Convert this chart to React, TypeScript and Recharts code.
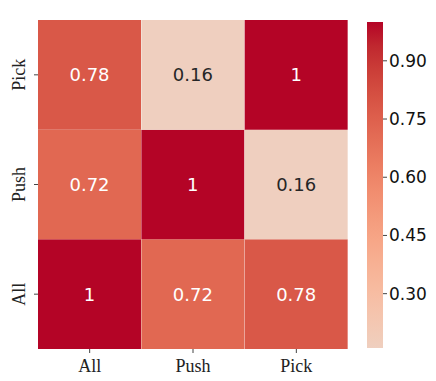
import { BarChart, Bar, XAxis, YAxis, Cell, LabelList } from "recharts";

const COLS = ["All", "Push", "Pick"];
const ROWS = ["All", "Push", "Pick"]; // bottom to top
const ROW_ALL = [1, 0.72, 0.78];
const ROW_PUSH = [0.72, 1, 0.16];
const ROW_PICK = [0.78, 0.16, 1];
const CB_TICKS = [0.3, 0.45, 0.6, 0.75, 0.9];
const VMIN = 0.16;
const VMAX = 1.0;

// upper half of matplotlib's coolwarm (t, r, g, b)
const COOLWARM: number[][] = [
  [0.5, 0.8654, 0.8654, 0.8654],
  [0.53125, 0.8978, 0.8489, 0.8209],
  [0.5625, 0.9241, 0.8274, 0.7745],
  [0.59375, 0.9445, 0.8009, 0.7267],
  [0.625, 0.9589, 0.7698, 0.678],
  [0.65625, 0.9673, 0.7341, 0.6288],
  [0.6875, 0.97, 0.6943, 0.5794],
  [0.71875, 0.9668, 0.6504, 0.5303],
  [0.75, 0.958, 0.6028, 0.4818],
  [0.78125, 0.9437, 0.5518, 0.4342],
  [0.8125, 0.9239, 0.4973, 0.388],
  [0.84375, 0.899, 0.4396, 0.3432],
  [0.875, 0.8692, 0.3783, 0.3003],
  [0.90625, 0.8346, 0.3129, 0.2593],
  [0.9375, 0.7956, 0.2413, 0.2205],
  [0.96875, 0.7525, 0.1572, 0.1841],
  [1, 0.7057, 0.0156, 0.1502],
];

// heatmap is centred on 0, so v in [-1, 1] -> t in [0, 1]
function colorFor(v: number) {
  const t = Math.min(1, Math.max(0.5, (v + 1) / 2));
  let i = 0;
  while (i < COOLWARM.length - 2 && COOLWARM[i + 1][0] < t) i++;
  const a = COOLWARM[i];
  const b = COOLWARM[i + 1];
  const f = (t - a[0]) / (b[0] - a[0]);
  const c = [1, 2, 3].map((k) => Math.round((a[k] + (b[k] - a[k]) * f) * 255));
  return `rgb(${c[0]},${c[1]},${c[2]})`;
}

const VALUES: Record<string, number[]> = { All: ROW_ALL, Push: ROW_PUSH, Pick: ROW_PICK };

const data = COLS.map((name, i) => {
  const d: Record<string, any> = { name };
  ROWS.forEach((r) => {
    d[r] = 1;
    d["v" + r] = VALUES[r][i];
  });
  return d;
});

const cbData = [{ name: "cb", range: [VMIN, VMAX] }];

const SERIF = "'Liberation Serif', 'Times New Roman', serif";
const SANS = "'DejaVu Sans', sans-serif";

function YTick(props: any) {
  const { x, y, payload } = props;
  const label = ROWS[Math.floor(payload.value)];
  return (
    <text
      x={x}
      y={y}
      transform={`rotate(-90 ${x} ${y})`}
      textAnchor="middle"
      fontFamily={SERIF}
      fontSize={18}
      fill="#222"
    >
      {label}
    </text>
  );
}

function CellLabel(props: any) {
  const { x, y, width, height, value } = props;
  return (
    <text
      x={x + width / 2}
      y={y + height / 2}
      textAnchor="middle"
      dominantBaseline="central"
      fontFamily={SANS}
      fontSize={18}
      fill={value < 0.5 ? "#262626" : "#ffffff"}
    >
      {String(value)}
    </text>
  );
}

export default function App() {
  // gradient stops from top (VMAX) to bottom (VMIN), offsets increasing
  const stops = [
    VMAX,
    ...COOLWARM.map((c) => 2 * c[0] - 1)
      .filter((v) => v > VMIN && v < VMAX)
      .reverse(),
    VMIN,
  ];
  return (
    <div style={{ position: "absolute", left: 0, top: 0, width: 436, height: 381, background: "#fff" }}>
      <div style={{ position: "absolute", left: 0, top: 0 }}>
        <BarChart
          width={360}
          height={381}
          data={data}
          margin={{ top: 20, right: 12, bottom: 0, left: 0 }}
          barCategoryGap={0}
          barGap={0}
        >
          <XAxis
            dataKey="name"
            height={32}
            axisLine={false}
            tickSize={4}
            tickMargin={6}
            tickLine={{ stroke: "#444" }}
            tick={{ fontFamily: SERIF, fontSize: 18, fill: "#222" }}
          />
          <YAxis
            type="number"
            domain={[0, 3]}
            ticks={[0.5, 1.5, 2.5]}
            width={38}
            axisLine={false}
            tickSize={4}
            tickMargin={9}
            tickLine={{ stroke: "#444" }}
            tick={<YTick />}
          />
          {ROWS.map((r) => (
            <Bar key={r} dataKey={r} stackId="h" isAnimationActive={false}>
              {COLS.map((c, i) => (
                <Cell key={c} fill={colorFor(VALUES[r][i])} />
              ))}
              <LabelList dataKey={"v" + r} content={<CellLabel />} />
            </Bar>
          ))}
        </BarChart>
      </div>
      <div style={{ position: "absolute", left: 360, top: 0 }}>
        <BarChart
          width={76}
          height={381}
          data={cbData}
          margin={{ top: 22, right: 0, bottom: 33, left: 7 }}
          barCategoryGap={0}
        >
          <defs>
            <linearGradient id="cbGrad" x1="0" y1="0" x2="0" y2="1">
              {stops.map((v) => (
                <stop
                  key={v}
                  offset={`${((VMAX - v) / (VMAX - VMIN)) * 100}%`}
                  stopColor={colorFor(v)}
                />
              ))}
            </linearGradient>
          </defs>
          <XAxis dataKey="name" hide />
          <YAxis
            orientation="right"
            type="number"
            domain={[VMIN, VMAX]}
            allowDataOverflow
            ticks={CB_TICKS}
            width={53}
            axisLine={false}
            tickSize={4}
            tickMargin={2}
            tickLine={{ stroke: "#444" }}
            tickFormatter={(v: number) => v.toFixed(2)}
            tick={{ fontFamily: SANS, fontSize: 17, fill: "#111" }}
          />
          <Bar dataKey="range" fill="url(#cbGrad)" isAnimationActive={false} />
        </BarChart>
      </div>
    </div>
  );
}
